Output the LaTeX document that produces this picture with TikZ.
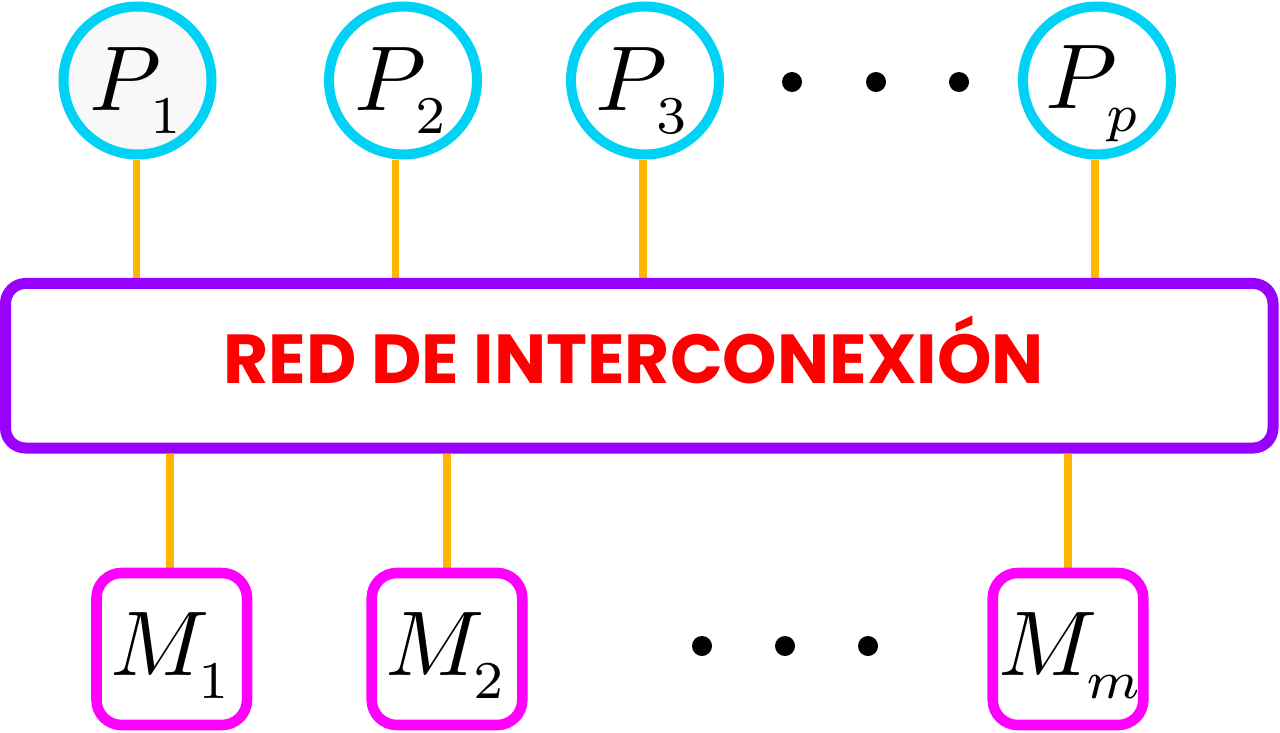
\documentclass[tikz,border=0pt]{standalone}
\usepackage{fix-cm}
\usepackage{fontspec}
\newfontfamily\redfont{Poppins}
\usetikzlibrary{backgrounds}
\definecolor{pcyan}{RGB}{0,210,245}
\definecolor{ppurple}{RGB}{153,0,255}
\definecolor{pmag}{RGB}{255,0,255}
\definecolor{porange}{RGB}{255,180,0}
\definecolor{pred}{RGB}{255,0,0}
\definecolor{pgray}{RGB}{248,248,248}
\newcommand\bigsym[2]{\scalebox{6.9}{$#1$}\kern-8pt\raisebox{-17.25pt}{\scalebox{5.7}{$\scriptstyle #2$}}}
\begin{document}
\begin{tikzpicture}[x=0.75pt,y=-0.75pt,
  proc/.style={circle, draw=pcyan, line width=7.5pt, minimum size=111pt, inner sep=0pt, fill=white},
  mem/.style={rectangle, rounded corners=18.75pt, draw=pmag, line width=7.9pt, minimum width=112.9pt, minimum height=114pt, inner sep=0pt, fill=white},
  netbox/.style={rectangle, rounded corners=15pt, draw=ppurple, line width=8.25pt, minimum width=950.6pt, minimum height=123.4pt, fill=white, inner sep=0pt},
  nettext/.style={anchor=base, inner sep=0pt, font=\fontsize{52}{52}\selectfont\redfont\bfseries, text=pred},
  wire/.style={draw=porange, line width=5.8pt},
  lbl/.style={anchor=base west, inner sep=0pt, outer sep=0pt},
  dotnode/.style={circle, fill=black, minimum size=15pt, inner sep=0pt}]
\useasboundingbox (0,0) rectangle (1280,732);
% processors
\node[proc, fill=pgray] (p1) at (137.5,80.5) {};
\node[proc] (p2) at (403,80.5) {};
\node[proc] (p3) at (645,80.5) {};
\node[proc] (pp) at (1097,80.5) {};
% network
\node[netbox] (net) at (639.25,365.75) {};
\node[nettext] (netlbl) at (633.5,383) {RED DE INTERCONEXIÓN};
% memories
\node[mem] (m1) at (171.75,649) {};
\node[mem] (m2) at (447,649) {};
\node[mem] (mm) at (1068,649) {};
% labels
\node[lbl] (tp1) at (89,110) {\bigsym{P}{1}};
\node[lbl] (tp2) at (354,110) {\bigsym{P}{2}};
\node[lbl] (tp3) at (595,110) {\bigsym{P}{3}};
\node[lbl] (tpp) at (1045,108) {\bigsym{P}{p}};
\node[lbl] (tm1) at (110,675) {\bigsym{M}{1}};
\node[lbl] (tm2) at (385,675) {\bigsym{M}{2}};
\node[lbl] (tmm) at (998,675) {\bigsym{M}{m}};
% dots
\node[dotnode] (d1) at (792,82) {};
\node[dotnode] (d2) at (876,82) {};
\node[dotnode] (d3) at (959,82) {};
\node[dotnode] (e1) at (702,646) {};
\node[dotnode] (e2) at (785,646) {};
\node[dotnode] (e3) at (868,646) {};
% wires
\begin{pgfonlayer}{background}
\draw[wire] ([xshift=-0.75pt]p1.south) -- ([xshift=-0.75pt]p1.south |- net.north);
\draw[wire] ([xshift=-5.6pt]p2.south) -- ([xshift=-5.6pt]p2.south |- net.north);
\draw[wire] ([xshift=-1.5pt]p3.south) -- ([xshift=-1.5pt]p3.south |- net.north);
\draw[wire] ([xshift=-1.5pt]pp.south) -- ([xshift=-1.5pt]pp.south |- net.north);
\draw[wire] ([xshift=-1.3pt]m1.north) -- ([xshift=-1.3pt]m1.north |- net.south);
\draw[wire] (m2.north) -- (m2.north |- net.south);
\draw[wire] (mm.north) -- (mm.north |- net.south);
\end{pgfonlayer}
\end{tikzpicture}
\end{document}
